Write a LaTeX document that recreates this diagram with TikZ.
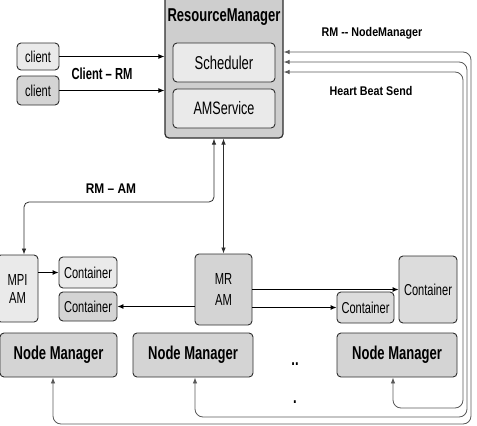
\documentclass[tikz,border=0pt]{standalone}
\usepackage{fontspec}
\setmainfont[FakeStretch=0.7]{Liberation Sans}
\newfontfamily\midf[FakeStretch=0.85]{Liberation Sans}
\usetikzlibrary{arrows.meta}
\definecolor{boxdark}{RGB}{212,212,212}
\definecolor{boxmid}{RGB}{220,220,220}
\definecolor{boxlight}{RGB}{234,234,234}
\definecolor{rmfill}{RGB}{206,206,206}
\definecolor{linegray}{RGB}{90,90,90}
\definecolor{edgegray}{RGB}{45,45,45}
\begin{document}
\begin{tikzpicture}[x=1pt,y=-1pt,
  box/.style={draw=edgegray,line width=0.9pt,rounded corners=4pt,inner sep=0pt,align=center},
  small/.style={font=\fontsize{15.8}{17}\selectfont},
  big/.style={font=\fontsize{18.6}{20}\selectfont\bfseries},
  blk/.style={-{Latex[length=6pt,width=5pt]},line width=0.9pt,black},
  beat/.style={{Latex[length=6pt,width=4.5pt]}-{Latex[length=6pt,width=4.5pt]},line width=0.8pt,linegray,rounded corners=8pt},
  ram/.style={{Latex[length=6pt,width=4.5pt]}-{Latex[length=6pt,width=4.5pt]},line width=0.8pt,edgegray,rounded corners=5pt}]
\useasboundingbox (0,0) rectangle (477,426);

% Resource manager
\node[box,fill=rmfill,line width=1.2pt,minimum width=118pt,minimum height=142pt] (rm) at (224,67) {};
\node[big] (rmt) at (224,17) {ResourceManager};
\node[box,fill=boxlight,minimum width=102pt,minimum height=39pt,font=\fontsize{18.6}{20}\selectfont] (sch) at (224,62.5) {Scheduler};
\node[box,fill=boxlight,minimum width=102pt,minimum height=39pt,font=\fontsize{18}{20}\selectfont] (ams) at (224,108.5) {AMService};

% clients
\node[box,fill=boxlight,minimum width=42pt,minimum height=27pt,small] (c1) at (38,56.5) {client};
\node[box,fill=boxdark,minimum width=42pt,minimum height=29pt,small] (c2) at (38,90.5) {client};
\draw[blk] (c1.east) -- (c1.east -| rm.west);
\draw[blk] (c2.east) -- (c2.east -| rm.west);
\node[font=\fontsize{16}{17}\selectfont\bfseries] (lcr) at (102,74) {Client – RM};

% labels right
\node[font=\fontsize{12.6}{14}\midf\bfseries] (lrn) at (372,33) {RM -{}- NodeManager};
\node[font=\fontsize{12.6}{14}\midf\bfseries] (lhb) at (371,91) {Heart Beat Send};

% AMs and containers
\node[box,fill=boxlight,minimum width=41pt,minimum height=67pt,font=\fontsize{16}{18}\selectfont] (mpi) at (17.5,288.5) {MPI\\AM};
\node[box,fill=boxlight,minimum width=58pt,minimum height=31pt,small] (ca) at (88,272.5) {Container};
\node[box,fill=boxdark,minimum width=58pt,minimum height=29pt,small] (cb) at (88,306.5) {Container};
\node[box,fill=boxdark,minimum width=57pt,minimum height=71pt,font=\fontsize{16}{21}\selectfont] (mr) at (223.5,289.5) {MR\\AM};
\node[box,fill=boxmid,minimum width=58pt,minimum height=67pt,small] (cbig) at (428,289.5) {Container};
\node[box,fill=boxmid,minimum width=57pt,minimum height=31pt,small] (cs) at (365.5,307.5) {Container};

\draw[blk] (mpi.east |- ca.west) -- (ca.west);
\draw[blk] (mr.east |- cbig.west) -- (cbig.west);
\draw[blk] (mr.east |- cs.west) -- (cs.west);
\draw[blk] (mr.west |- cb.east) -- (cb.east);

% Node managers
\node[box,fill=boxdark,minimum width=117pt,minimum height=44pt,big] (nm1) at (58.5,355) {Node Manager};
\node[box,fill=boxdark,minimum width=120pt,minimum height=44pt,big] (nm2) at (193,355) {Node Manager};
\node[box,fill=boxdark,minimum width=120pt,minimum height=44pt,big] (nm3) at (397,355) {Node Manager};
\node[big] (d1) at (295,364) {..};
\node[big] (d2) at (295,402) {.};

% RM - AM
\node[font=\fontsize{14}{15}\midf\bfseries] (lra) at (111,189) {RM – AM};
\coordinate (r1) at (214,138);
\draw[ram] (rm.south -| r1) -- (214,202) -- (24,202) -- (mpi.north -| 24,0);
\draw[ram] (rm.south -| mr.north) -- (mr.north);

% heart beat lines
\coordinate (h1) at (53,377);
\coordinate (h2) at (195,377);
\coordinate (h3) at (393,377);
\draw[beat] (nm1.south -| h1) -- (53,424) -- (471,424) -- (471,52) -- (rm.east |- 0,52);
\draw[beat] (nm2.south -| h2) -- (195,417) -- (467,417) -- (467,62) -- (rm.east |- 0,62);
\draw[beat] (nm3.south -| h3) -- (393,408) -- (463,408) -- (463,72) -- (rm.east |- 0,72);
\end{tikzpicture}
\end{document}
